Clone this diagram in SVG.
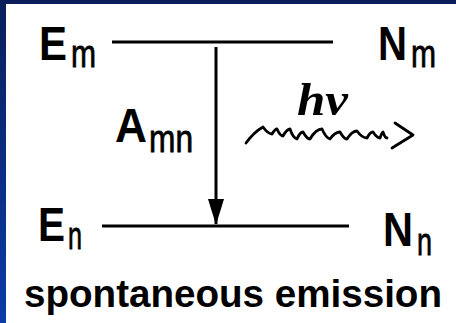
<svg xmlns="http://www.w3.org/2000/svg" width="456" height="323" viewBox="0 0 456 323">
  <defs>
    <linearGradient id="frame" x1="0" y1="0" x2="0" y2="1">
      <stop offset="0" stop-color="#0a1f5a"/>
      <stop offset="1" stop-color="#0b3ca8"/>
    </linearGradient>
    <marker id="head" viewBox="0 0 26 16" refX="25" refY="8" markerWidth="26" markerHeight="16" markerUnits="userSpaceOnUse" orient="auto">
      <path d="M0,0 L26,8 L0,16 Z" fill="#000"/>
    </marker>
    <style>
      .big { font-family: "Liberation Sans", Arial, sans-serif; font-weight: bold; font-size: 48px; fill: #000; }
      .sub { font-family: "Liberation Sans", Arial, sans-serif; font-size: 38px; fill: #000; stroke: #000; stroke-width: 0.8px; }
      .lvl { stroke: #000; stroke-width: 3; fill: none; }
      .cap { font-family: "Liberation Sans", Arial, sans-serif; font-weight: bold; font-size: 38px; fill: #000; }
    </style>
  </defs>
  <rect x="0" y="0" width="456" height="323" fill="url(#frame)"/>
  <rect x="6" y="4" width="450" height="319" fill="#fff"/>

  <g id="level-m">
    <line class="lvl" x1="112" y1="42" x2="333" y2="42"/>
    <text class="big" x="39" y="60" textLength="28" lengthAdjust="spacingAndGlyphs">E</text>
    <text class="sub" x="71" y="67" textLength="25" lengthAdjust="spacingAndGlyphs">m</text>
    <text class="big" x="378" y="60" textLength="29" lengthAdjust="spacingAndGlyphs">N</text>
    <text class="sub" x="411" y="67" textLength="25" lengthAdjust="spacingAndGlyphs">m</text>
  </g>

  <g id="level-n">
    <line class="lvl" x1="102" y1="226" x2="349" y2="226"/>
    <text class="big" x="38" y="241" textLength="27" lengthAdjust="spacingAndGlyphs">E</text>
    <text class="sub" x="68" y="249" textLength="14" lengthAdjust="spacingAndGlyphs">n</text>
    <text class="big" x="383" y="246" textLength="30" lengthAdjust="spacingAndGlyphs">N</text>
    <text class="sub" x="417" y="255" textLength="15" lengthAdjust="spacingAndGlyphs">n</text>
  </g>

  <g id="label-amn">
    <text class="big" x="115" y="142" textLength="32" lengthAdjust="spacingAndGlyphs">A</text>
    <text class="sub" x="149" y="152" textLength="44" lengthAdjust="spacingAndGlyphs">mn</text>
  </g>

  <g id="label-hv">
    <text x="297" y="115" font-family="'Liberation Serif', 'Times New Roman', serif" font-style="italic" font-weight="bold" font-size="46" fill="#000" textLength="51" lengthAdjust="spacingAndGlyphs">hν</text>
  </g>

  <g id="connectors">
    <line x1="216" y1="47" x2="216" y2="224" stroke="#000" stroke-width="3" marker-end="url(#head)"/>
    <path d="M246,143 Q254,132 263,127 Q268,134 272,134 Q275,129 277,129 Q280,136 283,136 Q287,129 290,129 Q293,138 297,139 Q300,132 303,132 Q307,139 310,139 Q316,129 322,129 Q326,138 330,139 Q335,132 340,132 Q344,139 347,139 Q352,131 357,131 Q362,138 367,138 Q370,132 373,132 Q377,138 380,138 Q382,132 383,132 Q385,138 387,138" fill="none" stroke="#000" stroke-width="2.8" stroke-linejoin="round" stroke-linecap="round"/>
    <path d="M395,123 L413,135 L392,148" fill="none" stroke="#000" stroke-width="2.8" stroke-linejoin="round" stroke-linecap="round"/>
  </g>

  <g id="caption">
    <text class="cap" x="24" y="307" textLength="418" lengthAdjust="spacingAndGlyphs">spontaneous emission</text>
  </g>
</svg>
